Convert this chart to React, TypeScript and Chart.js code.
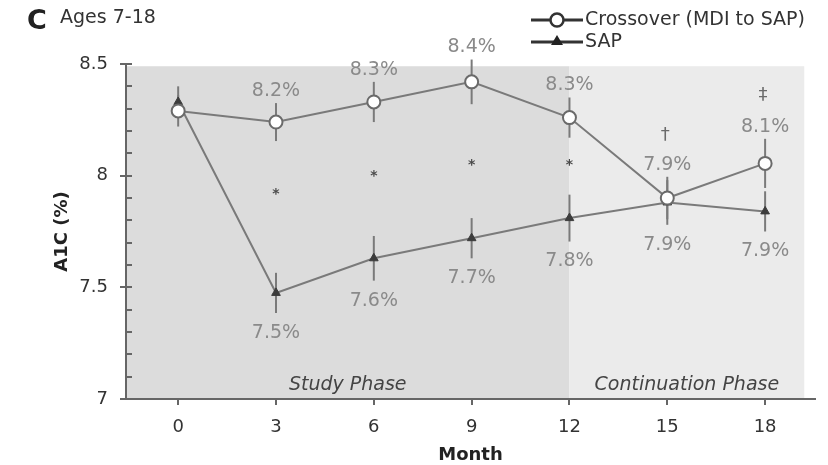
import React, { useEffect, useRef } from "react";
import { Chart, registerables } from "chart.js";

Chart.register(...registerables);

// ---- data ----
const months = [0, 3, 6, 9, 12, 15, 18];
const crossoverA1C = [8.29, 8.24, 8.33, 8.42, 8.26, 7.9, 8.055];
const crossoverErr = [0.07, 0.085, 0.09, 0.1, 0.09, 0.095, 0.11];
const sapA1C = [8.33, 7.475, 7.63, 7.72, 7.81, 7.88, 7.84];
const sapErr = [0.07, 0.09, 0.1, 0.09, 0.105, 0.1, 0.09];
const crossoverLabels = ["", "8.2%", "8.3%", "8.4%", "8.3%", "7.9%", "8.1%"];
const sapLabels = ["", "7.5%", "7.6%", "7.7%", "7.8%", "7.9%", "7.9%"];
const asteriskMonths = [3, 6, 9, 12];
const asteriskLevels = [7.93, 8.01, 8.06, 8.06];
const daggerMonths = [15, 18];
const daggerLevels = [8.18, 8.36];
const daggerMarks = ["\u2020", "\u2021"];
const xTicks = [0, 3, 6, 9, 12, 15, 18];
const yMajorTicks = [7, 7.5, 8, 8.5];
const yMinorStep = 0.1;
const phaseNames = ["Study Phase", "Continuation Phase"];
const phaseStarts = [-1.6, 12];
const phaseEnds = [12, 19.2];
const seriesNames = ["Crossover (MDI to SAP)", "SAP"];
const panelLetter = "C";
const panelTitle = "Ages 7-18";

const FONT = "'DejaVu Sans', 'Liberation Sans', Arial, sans-serif";
const LINE = "#7a7a7a";

const decorPlugin = {
  id: "decor",
  beforeDraw(chart: any) {
    const { ctx, chartArea, scales } = chart;
    const x = scales.x;
    const y = scales.y;
    ctx.save();
    ctx.fillStyle = "#ffffff";
    ctx.fillRect(0, 0, chart.width, chart.height);
    const colors = ["#dcdcdc", "#ebebeb"];
    const yTop = y.getPixelForValue(8.49);
    phaseStarts.forEach((a, i) => {
      const x0 = Math.max(x.getPixelForValue(a), chartArea.left);
      const x1 = x.getPixelForValue(phaseEnds[i]);
      ctx.fillStyle = colors[i];
      ctx.fillRect(x0, yTop, x1 - x0, chartArea.bottom - yTop);
    });
    ctx.restore();
  },
  beforeDatasetsDraw(chart: any) {
    const { ctx, scales } = chart;
    const x = scales.x;
    const y = scales.y;
    ctx.save();
    ctx.strokeStyle = LINE;
    ctx.lineWidth = 2;
    const bars = (vals: number[], errs: number[]) => {
      vals.forEach((v, i) => {
        const px = x.getPixelForValue(months[i]);
        ctx.beginPath();
        ctx.moveTo(px, y.getPixelForValue(v + errs[i]));
        ctx.lineTo(px, y.getPixelForValue(v - errs[i]));
        ctx.stroke();
      });
    };
    bars(sapA1C, sapErr);
    bars(crossoverA1C, crossoverErr);
    ctx.restore();
  },
  afterDatasetsDraw(chart: any) {
    const { ctx, scales, chartArea } = chart;
    const x = scales.x;
    const y = scales.y;
    ctx.save();
    ctx.textAlign = "center";
    ctx.textBaseline = "middle";
    ctx.fillStyle = "#8a8a8a";
    ctx.font = `19px ${FONT}`;
    crossoverLabels.forEach((t, i) => {
      if (!t) return;
      const px = x.getPixelForValue(months[i]);
      const py = y.getPixelForValue(crossoverA1C[i] + crossoverErr[i]) - 12;
      ctx.fillText(t, px, py);
    });
    sapLabels.forEach((t, i) => {
      if (!t) return;
      const px = x.getPixelForValue(months[i]);
      const py = y.getPixelForValue(sapA1C[i] - sapErr[i]) + 20;
      ctx.fillText(t, px, py);
    });
    // asterisks
    ctx.fillStyle = "#4a4a4a";
    ctx.font = `bold 14px ${FONT}`;
    asteriskMonths.forEach((m, i) => {
      ctx.fillText("*", x.getPixelForValue(m), y.getPixelForValue(asteriskLevels[i]) + 3);
    });
    // daggers
    ctx.fillStyle = "#6a6a6a";
    ctx.font = `18px ${FONT}`;
    daggerMonths.forEach((m, i) => {
      ctx.fillText(daggerMarks[i], x.getPixelForValue(m) - 2, y.getPixelForValue(daggerLevels[i]));
    });
    // phase names
    ctx.fillStyle = "#444";
    ctx.font = `italic 19px ${FONT}`;
    phaseNames.forEach((n, i) => {
      const x0 = Math.max(x.getPixelForValue(phaseStarts[i]), chartArea.left);
      const x1 = x.getPixelForValue(phaseEnds[i]);
      ctx.fillText(n, (x0 + x1) / 2, chartArea.bottom - 14);
    });
    ctx.restore();
  },
  afterDraw(chart: any) {
    const { ctx, scales } = chart;
    const x = scales.x;
    const y = scales.y;
    ctx.save();
    // tick marks
    ctx.strokeStyle = "#666";
    ctx.lineWidth = 2;
    const ax = x.left;
    const steps = Math.round((y.max - y.min) / yMinorStep);
    for (let k = 0; k <= steps; k++) {
      const v = y.min + k * yMinorStep;
      const py = Math.round(y.getPixelForValue(v));
      const major = yMajorTicks.some((t) => Math.abs(t - v) < 1e-6);
      ctx.beginPath();
      ctx.moveTo(ax + (major ? -6 : 0), py);
      ctx.lineTo(ax + 6, py);
      ctx.stroke();
    }
    xTicks.forEach((t) => {
      const px = Math.round(x.getPixelForValue(t));
      ctx.beginPath();
      ctx.moveTo(px, y.bottom);
      ctx.lineTo(px, y.bottom + 6);
      ctx.stroke();
    });
    // panel title
    ctx.fillStyle = "#222";
    ctx.textBaseline = "middle";
    ctx.textAlign = "left";
    ctx.font = `bold 27px ${FONT}`;
    ctx.fillText(panelLetter, 27, 22);
    ctx.font = `19px ${FONT}`;
    ctx.fillStyle = "#333";
    ctx.fillText(panelTitle, 60, 18);
    // legend
    const lx0 = 531;
    const lx1 = 583;
    const lm = 557;
    const rows = [20, 42];
    rows.forEach((ry, i) => {
      ctx.strokeStyle = "#333";
      ctx.lineWidth = 3;
      ctx.beginPath();
      ctx.moveTo(lx0, ry);
      ctx.lineTo(lx1, ry);
      ctx.stroke();
      if (i === 0) {
        ctx.fillStyle = "#fff";
        ctx.lineWidth = 2.5;
        ctx.beginPath();
        ctx.arc(lm, ry, 6.5, 0, Math.PI * 2);
        ctx.fill();
        ctx.stroke();
      } else {
        ctx.fillStyle = "#222";
        ctx.beginPath();
        ctx.moveTo(lm, ry - 7);
        ctx.lineTo(lm + 6, ry + 3);
        ctx.lineTo(lm - 6, ry + 3);
        ctx.closePath();
        ctx.fill();
      }
      ctx.fillStyle = "#333";
      ctx.font = `19px ${FONT}`;
      ctx.fillText(seriesNames[i], lx1 + 2, ry);
    });
    ctx.restore();
  },
};

export default function App() {
  const ref = useRef<HTMLCanvasElement | null>(null);
  useEffect(() => {
    if (!ref.current) return;
    const chart = new Chart(ref.current, {
      type: "line",
      data: {
        datasets: [
          {
            label: seriesNames[0],
            data: months.map((m, i) => ({ x: m, y: crossoverA1C[i] })),
            borderColor: LINE,
            borderWidth: 2,
            pointStyle: "circle",
            pointRadius: 6.5,
            pointBackgroundColor: "#ffffff",
            pointBorderColor: "#6a6a6a",
            pointBorderWidth: 2,
            order: 0,
          },
          {
            label: seriesNames[1],
            data: months.map((m, i) => ({ x: m, y: sapA1C[i] })),
            borderColor: LINE,
            borderWidth: 2,
            pointStyle: "triangle",
            pointRadius: 5,
            pointBackgroundColor: "#3c3c3c",
            pointBorderColor: "#3c3c3c",
            pointBorderWidth: 1,
            order: 1,
          },
        ],
      },
      options: {
        animation: false,
        responsive: false,
        maintainAspectRatio: false,
        devicePixelRatio: 1,
        layout: { padding: { top: 64, right: 13, left: 0, bottom: 0 } },
        plugins: { legend: { display: false }, tooltip: { enabled: false } },
        scales: {
          x: {
            type: "linear",
            min: -1.6,
            max: 19.53,
            afterFit: (s: any) => {
              s.height = 66;
            },
            afterBuildTicks: (s: any) => {
              s.ticks = xTicks.map((v) => ({ value: v }));
            },
            ticks: {
              color: "#333",
              font: { family: FONT, size: 18 },
              padding: 18,
              callback: (v: any) => String(v),
            },
            grid: { display: false, drawTicks: false },
            border: { display: true, color: "#666", width: 2 },
            title: {
              display: true,
              text: "Month",
              color: "#222",
              font: { family: FONT, size: 18, weight: "bold" },
              padding: { top: 0, bottom: -1 },
            },
          },
          y: {
            type: "linear",
            min: 7,
            max: 8.5,
            afterFit: (s: any) => {
              s.width = 126;
            },
            afterBuildTicks: (s: any) => {
              s.ticks = yMajorTicks.map((v) => ({ value: v }));
            },
            ticks: {
              color: "#333",
              font: { family: FONT, size: 18 },
              padding: 18,
              callback: (v: any) => String(v),
            },
            grid: { display: false, drawTicks: false },
            border: { display: true, color: "#666", width: 2 },
            title: {
              display: true,
              text: "A1C (%)",
              color: "#222",
              font: { family: FONT, size: 18, weight: "bold" },
              padding: { top: 52, bottom: 0 },
            },
          },
        },
      },
      plugins: [decorPlugin],
    });
    return () => chart.destroy();
  }, []);
  return (
    <div style={{ position: "fixed", left: 0, top: 0, width: 828, height: 465 }}>
      <canvas ref={ref} width={828} height={465} style={{ width: 828, height: 465 }} />
    </div>
  );
}
